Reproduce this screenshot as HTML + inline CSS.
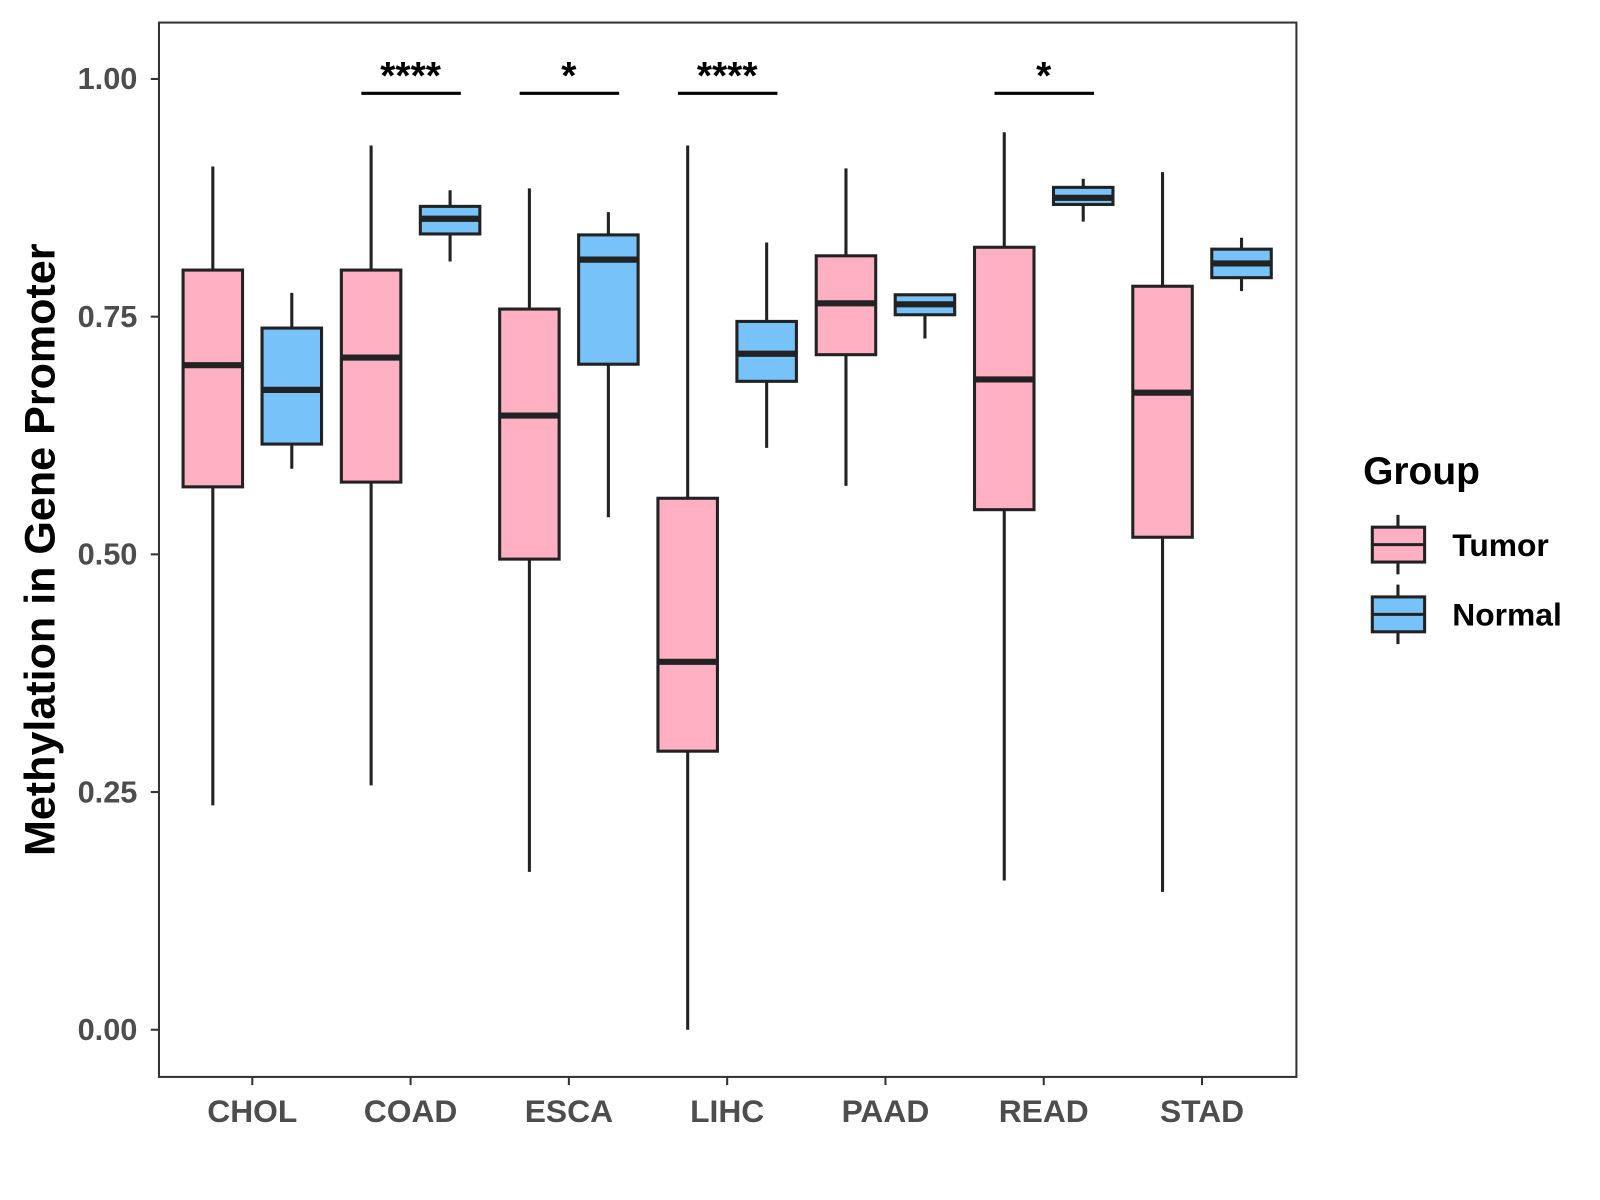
<!DOCTYPE html>
<html><head><meta charset="utf-8"><style>
html,body{margin:0;padding:0;background:#fff;}
svg{display:block;font-family:"Liberation Sans",Arial,sans-serif;font-weight:bold;}
</style></head><body>
<svg id="chart" width="1600" height="1200" viewBox="0 0 1560 1170" xmlns="http://www.w3.org/2000/svg">
<rect x="155" y="22" width="1109" height="1028" fill="#fff" stroke="#333" stroke-width="2"/>
<g id="ticks"></g>
<g id="boxes"></g>
<g id="sig"></g>
<text transform="translate(53,536) rotate(-90)" text-anchor="middle" font-size="42" fill="#000">Methylation in Gene Promoter</text>
<g>
<text x="1329" y="472" font-size="38" fill="#000">Group</text>
<g>
<line x1="1363" y1="502" x2="1363" y2="560" stroke="#222" stroke-width="3"/>
<rect x="1338" y="514" width="51" height="34" fill="#FFB0C3" stroke="#222" stroke-width="3"/>
<line x1="1338" y1="531" x2="1389" y2="531" stroke="#222" stroke-width="3"/>
<text x="1416" y="542" font-size="31" fill="#000">Tumor</text>
</g>
<g>
<line x1="1363" y1="570" x2="1363" y2="628" stroke="#222" stroke-width="3"/>
<rect x="1338" y="582" width="51" height="34" fill="#78C2FA" stroke="#222" stroke-width="3"/>
<line x1="1338" y1="599" x2="1389" y2="599" stroke="#222" stroke-width="3"/>
<text x="1416" y="610" font-size="31" fill="#000">Normal</text>
</g>
</g>
</svg>
<script>
const categories=["CHOL","COAD","ESCA","LIHC","PAAD","READ","STAD"];
// [lowWhisker, q1, median, q3, highWhisker]
const tumorStats=[[0.236,0.571,0.699,0.799,0.908],[0.257,0.576,0.707,0.799,0.930],[0.166,0.495,0.646,0.758,0.885],[0.0,0.293,0.387,0.559,0.930],[0.572,0.710,0.764,0.814,0.906],[0.157,0.547,0.684,0.823,0.944],[0.145,0.518,0.670,0.782,0.902]];
const normalStats=[[0.590,0.616,0.673,0.738,0.775],[0.808,0.837,0.853,0.866,0.883],[0.539,0.700,0.810,0.836,0.860],[0.612,0.682,0.711,0.745,0.828],[0.727,0.752,0.763,0.773,0.773],[0.850,0.868,0.875,0.886,0.895],[0.777,0.791,0.806,0.821,0.833]];
const sigCategories=["COAD","ESCA","LIHC","READ"];
const sigLabels=["****","*","****","*"];
const yTicks=[0,0.25,0.5,0.75,1.0];
const yTickLabels=["0.00","0.25","0.50","0.75","1.00"];

const NS="http://www.w3.org/2000/svg";
const yS=v=>1004-v*927;
const xS=i=>246+i*154.33;
function mk(tag,attrs,parent){const e=document.createElementNS(NS,tag);for(const k in attrs)e.setAttribute(k,attrs[k]);parent.appendChild(e);return e;}
const tg=document.getElementById('ticks');
yTicks.forEach((t,i)=>{
  const l=mk('line',{x1:147,x2:155,y1:yS(t),y2:yS(t),stroke:'#333','stroke-width':2},tg);
  
  
  const tx=mk('text',{x:134,y:yS(t)+10,'text-anchor':'end','font-size':30,fill:'#4d4d4d'},tg);
  tx.textContent=yTickLabels[i];
  
  
});
categories.forEach((c,i)=>{
  const l=mk('line',{x1:xS(i),x2:xS(i),y1:1050,y2:1058,stroke:'#333','stroke-width':2},tg);
  
  
  const tx=mk('text',{x:xS(i),y:1094,'text-anchor':'middle','font-size':31,fill:'#4d4d4d'},tg);
  tx.textContent=c;
  
  
});
const bg=document.getElementById('boxes');
function box(cx,s,fill,name){
  const g=mk('g',{},bg);
  
  
  mk('line',{x1:cx,x2:cx,y1:yS(s[0]),y2:yS(s[4]),stroke:'#222','stroke-width':3},g);
  mk('rect',{x:cx-29,y:yS(s[3]),width:58,height:yS(s[1])-yS(s[3]),fill:fill,stroke:'#222','stroke-width':3},g);
  mk('line',{x1:cx-29,x2:cx+29,y1:yS(s[2]),y2:yS(s[2]),stroke:'#222','stroke-width':6},g);
}
categories.forEach((c,i)=>{
  box(xS(i)-38.5,tumorStats[i],'#FFB0C3','box-tumor-'+c.toLowerCase());
  box(xS(i)+38.5,normalStats[i],'#78C2FA','box-normal-'+c.toLowerCase());
});
const sg=document.getElementById('sig');
sigCategories.forEach((c,j)=>{
  const i=categories.indexOf(c);
  const l=mk('line',{x1:xS(i)-48,x2:xS(i)+49,y1:91,y2:91,stroke:'#000','stroke-width':3},sg);
  
  
  const t=mk('text',{x:xS(i),y:87,'text-anchor':'middle','font-size':38,fill:'#000'},sg);
  t.textContent=sigLabels[j];
  
  
});
</script>
</body></html>
